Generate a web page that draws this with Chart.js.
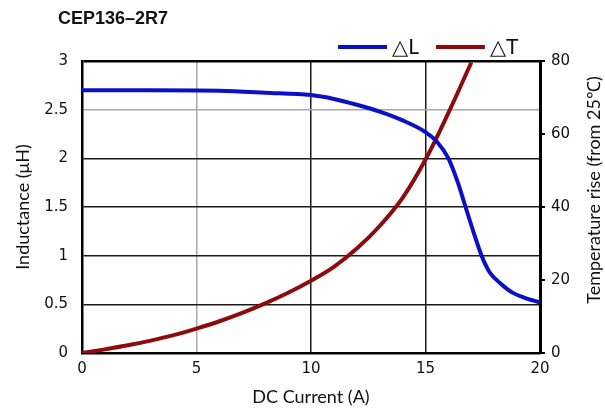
<!DOCTYPE html>
<html>
<head>
<meta charset="utf-8">
<title>CEP136-2R7</title>
<script src="https://cdn.jsdelivr.net/npm/chart.js@4/dist/chart.umd.min.js"></script>
<style>
  html, body { margin: 0; padding: 0; background: #fff; }
  #wrap { width: 605px; height: 412px; position: relative; }
</style>
</head>
<body>
<div id="wrap"><canvas id="chart"></canvas></div>
<script>
// DC current (A) vs inductance (uH)
const currentL = [0, 3, 6, 8, 10, 11, 12, 13, 14, 15, 15.5, 16, 16.4, 16.75, 17.1, 17.45, 17.8, 18.25, 18.8, 19.3, 20];
const inductance = [2.70, 2.70, 2.695, 2.675, 2.65, 2.61, 2.55, 2.48, 2.39, 2.27, 2.17, 2.0, 1.76, 1.5, 1.24, 1.0, 0.83, 0.72, 0.62, 0.57, 0.52];

// DC current (A) vs temperature rise (deg C)
const currentT = [0, 1, 2, 3, 4, 5, 6, 7, 8, 9, 10, 11, 12, 13, 14, 15, 16, 17];
const tempRise = [0, 1.0, 2.1, 3.4, 4.9, 6.7, 8.7, 11.0, 13.6, 16.5, 19.8, 23.6, 28.6, 34.8, 42.5, 53.0, 65.8, 79.6];

const xTicks = [0, 5, 10, 15, 20];
const yTicks = [0, 0.5, 1, 1.5, 2, 2.5, 3];
const y1Ticks = [0, 20, 40, 60, 80];

const seriesNames = ["\u25B3L", "\u25B3T"];
const chartTitle = "CEP136\u20132R7";
const rightTitle = "Temperature rise (from 25\u2103)";

const toPoints = (xs, ys) => xs.map((x, i) => ({ x: x, y: ys[i] }));
const setTicks = (vals) => (scale) => { scale.ticks = vals.map(v => ({ value: v })); };

const BLUE = "#0a10c8";
const RED = "#8c0c0c";
const TICK_FONT = { family: "'DejaVu Sans', sans-serif", size: 15 };

// title, legend and the right-hand axis title (reads bottom to top like the left one)
const headerPlugin = {
  id: "header",
  afterDraw(chart) {
    const ctx = chart.ctx;
    const area = chart.chartArea;
    ctx.save();
    ctx.fillStyle = "#111";
    ctx.font = "bold 18px 'Liberation Sans', Arial, sans-serif";
    ctx.textBaseline = "middle";
    ctx.textAlign = "left";
    ctx.fillText(chartTitle, 58, 19);

    ctx.font = "21px Lato, 'DejaVu Sans', sans-serif";
    let x = area.right - 202;
    const y = 47;
    chart.data.datasets.forEach((ds) => {
      ctx.strokeStyle = ds.borderColor;
      ctx.lineWidth = 4;
      ctx.beginPath();
      ctx.moveTo(x, y);
      ctx.lineTo(x + 49, y);
      ctx.stroke();
      x += 54;
      ctx.fillStyle = "#111";
      ctx.fillText(ds.label, x, y);
      x += ctx.measureText(ds.label).width + 17;
    });

    ctx.translate(594, 190);
    ctx.rotate(-Math.PI / 2);
    ctx.textAlign = "center";
    ctx.font = "18px Lato, sans-serif";
    ctx.fillText(rightTitle, 0, 0);
    ctx.restore();
  }
};

const gridColor = (light) => (c) => {
  const v = c.tick ? c.tick.value : null;
  return light.includes(v) ? "#a8a8a8" : "#1a1a1a";
};

new Chart(document.getElementById("chart"), {
  type: "line",
  data: {
    datasets: [
      {
        label: seriesNames[0],
        data: toPoints(currentL, inductance),
        borderColor: BLUE,
        backgroundColor: BLUE,
        borderWidth: 4,
        pointRadius: 0,
        cubicInterpolationMode: "monotone",
        yAxisID: "y"
      },
      {
        label: seriesNames[1],
        data: toPoints(currentT, tempRise),
        borderColor: RED,
        backgroundColor: RED,
        borderWidth: 4,
        pointRadius: 0,
        tension: 0.4,
        yAxisID: "y1"
      }
    ]
  },
  options: {
    responsive: true,
    maintainAspectRatio: false,
    animation: false,
    layout: { padding: { top: 61, left: 0, right: 0, bottom: 0 } },
    plugins: {
      legend: { display: false },
      title: { display: false },
      tooltip: { enabled: false }
    },
    scales: {
      x: {
        type: "linear",
        min: 0,
        max: 20,
        afterBuildTicks: setTicks(xTicks),
        afterFit: (s) => { s.height = 59; },
        grid: { color: gridColor([5]), lineWidth: 1.5, drawTicks: false },
        border: { color: "#000", width: 2.5 },
        ticks: { padding: 7, color: "#111", font: TICK_FONT, callback: (v) => String(v) },
        title: {
          display: true,
          text: "DC Current (A)",
          color: "#111",
          padding: { top: 0, bottom: 4 },
          font: { family: "Lato, sans-serif", size: 18 }
        }
      },
      y: {
        position: "left",
        min: 0,
        max: 3,
        afterBuildTicks: setTicks(yTicks),
        afterFit: (s) => { s.width = 82; },
        grid: {
          color: (c) => (c.tick && c.tick.value === 3) ? "#000" : gridColor([2.5])(c),
          lineWidth: (c) => (c.tick && c.tick.value === 3) ? 2.5 : 1.5,
          drawTicks: false
        },
        border: { color: "#000", width: 2.5 },
        ticks: { padding: 14, color: "#111", font: TICK_FONT, callback: (v) => String(v) },
        title: {
          display: true,
          text: "Inductance (\u03BCH)",
          color: "#111",
          padding: { top: 12, bottom: 0 },
          font: { family: "Lato, sans-serif", size: 18 }
        }
      },
      y1: {
        position: "right",
        min: 0,
        max: 80,
        afterBuildTicks: setTicks(y1Ticks),
        afterFit: (s) => { s.width = 65; },
        grid: { drawOnChartArea: false, drawTicks: true, tickLength: 5, color: "#000", lineWidth: 2 },
        border: { color: "#000", width: 3 },
        ticks: { padding: 6, color: "#111", font: TICK_FONT, callback: (v) => String(v) },
        title: { display: false }
      }
    }
  },
  plugins: [headerPlugin]
});
</script>
</body>
</html>
